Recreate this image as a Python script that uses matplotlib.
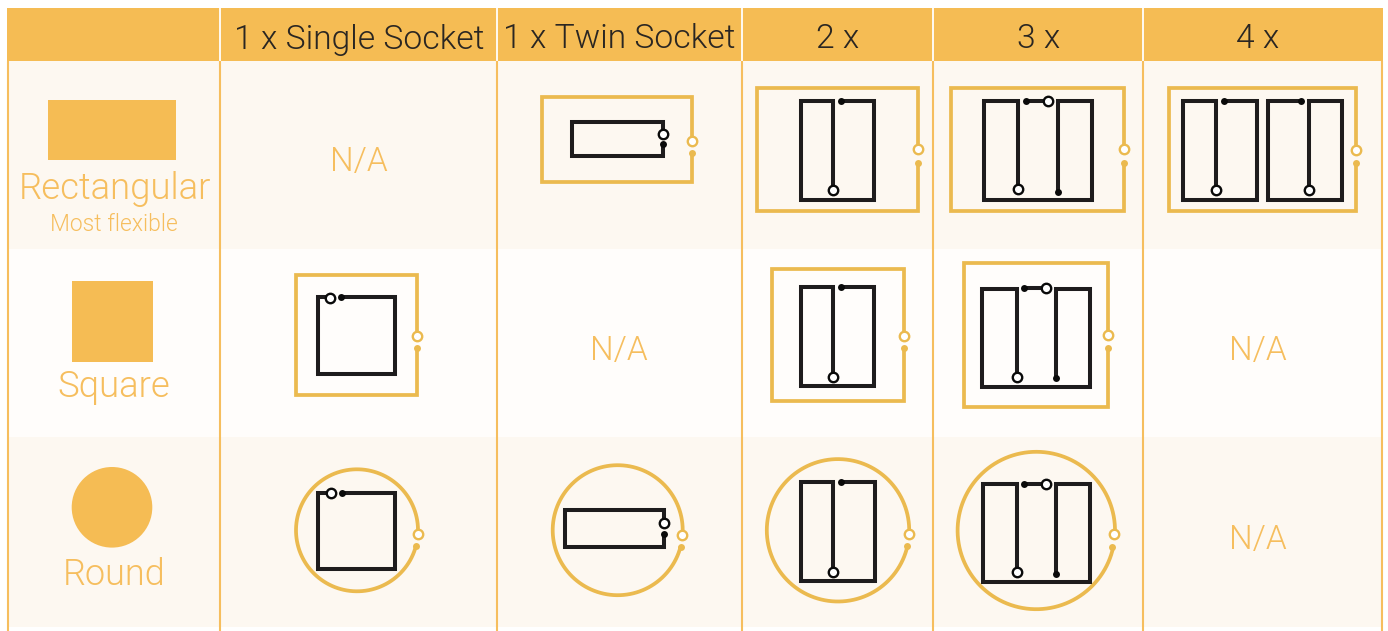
"""
Socket box shapes table, redrawn in pixel coordinates of the 1388x631 picture.
"""

import matplotlib
matplotlib.use("Agg")
import matplotlib.pyplot as plt
import numpy as np
from matplotlib.patches import Circle, Rectangle

ORANGE = "#F5BC54"
FRAME = "#EBBA4F"
INK = "#1E1C1D"
TEXT_DARK = "#2A2622"
LABEL = "#F6BE5E"
BAND = "#FDF8F1"
BAND_ALT = "#FFFDFB"

FONT = ["Roboto", "DejaVu Sans"]

# ----- table data -----

col_edges = [220.5, 497.5, 742.5, 933.5, 1143.5]
band_edges = [61, 249, 437, 627]

headers = ["1 x Single Socket", "1 x Twin Socket", "2 x", "3 x", "4 x"]
header_x = [359, 619, 838, 1039, 1258]

na_x = [359, 619, 1258, 1258]
na_y = [171, 360, 360, 549]

# x0, y0, x1, y1, open circle y, dot y
square_frames = [
    (542, 97, 692, 182, 140.7, 153),
    (757, 88, 918, 211, 149.3, 163),
    (951, 88, 1124, 211, 149.3, 163),
    (1169, 88, 1356, 211, 149.7, 163),
    (296, 274.5, 416.7, 395, 336.3, 347.7),
    (772, 269.3, 903.7, 401, 336.3, 347.7),
    (964, 263, 1108, 407, 335, 348.3),
]

# cx, cy, r, open x, open y, dot x, dot y
round_frames = [
    (357, 530.3, 61, 418, 534.3, 416, 546),
    (617.7, 530.2, 65, 681.7, 535, 680.7, 546.7),
    (838, 530.3, 71.2, 908.7, 534.3, 907, 546),
    (1036.3, 530.5, 78.7, 1114.3, 534.3, 1112.3, 546.7),
]

ink_paths = [
    # rectangular row
    [(663, 134), (663, 122), (572, 122), (572, 155.7), (663, 155.7), (663, 144)],
    [(841, 101), (874, 101), (874, 200), (801, 200), (801, 101), (833, 101), (833, 190)],
    [(1018, 189), (1018, 101), (984, 101), (984, 200), (1092, 200), (1092, 101), (1058, 101), (1058, 192)],
    [(1026, 101), (1048, 101)],
    [(1224.3, 101), (1257, 101), (1257, 200), (1183, 200), (1183, 101), (1216, 101), (1216, 190)],
    [(1300.7, 101), (1268, 101), (1268, 200), (1341.7, 200), (1341.7, 101), (1309, 101), (1309, 190)],
    # square row
    [(330, 297), (317.7, 297), (317.7, 373.7), (395.3, 373.7), (395.3, 297), (341, 297)],
    [(840.7, 287), (874.3, 287), (874.3, 385.7), (801, 385.7), (801, 287), (833.3, 287), (833.3, 377)],
    [(1017, 377), (1017, 288.5), (982.3, 288.5), (982.3, 387), (1090, 387), (1090, 288.5), (1056.3, 288.5), (1056.3, 378)],
    [(1024.3, 288.3), (1046.3, 288.3)],
    # round row
    [(331, 492.7), (318.3, 492.7), (318.3, 569), (395.3, 569), (395.3, 492.7), (341.7, 492.7)],
    [(664, 523), (664, 510.3), (565.3, 510.3), (565.3, 547), (664.3, 547), (664.3, 534)],
    [(841, 482.3), (874.7, 482.3), (874.7, 581.3), (801.3, 581.3), (801.3, 482.3), (833.3, 482.3), (833.3, 572)],
    [(1017, 572), (1017, 483.7), (982.7, 483.7), (982.7, 582.3), (1090, 582.3), (1090, 483.7), (1056.3, 483.7), (1056.3, 574)],
    [(1024.3, 483.7), (1046.3, 483.7)],
]

ink_open = [
    (662.7, 134), (833, 189.7), (1018, 189), (1048, 101), (1216, 189.7), (1309, 189.7),
    (330.3, 297.7), (833.3, 376.7), (1017, 376.7), (1046.3, 288.3),
    (331, 493), (664, 523.3), (833.3, 571.7), (1017, 571.7), (1046.3, 483.7),
]

ink_dots = [
    (663.3, 143.7), (841, 101), (1026, 101), (1058, 191.7), (1224.3, 101), (1300.7, 101),
    (341, 297), (840.7, 287), (1024.3, 288.3), (1056.3, 378.3),
    (341.7, 492.7), (664.3, 533.7), (841, 482.3), (1024.3, 483.7), (1056.3, 573.7),
]

# ----- drawing -----

fig = plt.figure(figsize=(13.88, 6.31), dpi=100)
ax = fig.add_axes([0, 0, 1, 1])
ax.set_xlim(0, 1388)
ax.set_ylim(631, 0)
ax.axis("off")


def label(x, y, s, size, color):
    ax.text(x, y, s, ha="center", va="baseline", fontsize=size, color=color,
            family=FONT, fontweight=300)


def open_mark(x, y, color, z):
    ax.plot([x], [y], "o", ms=6.8, mew=1.7, mec=color, mfc="white", zorder=z)


def dot_mark(x, y, color, z, ms=5):
    ax.plot([x], [y], "o", ms=ms, mew=0, color=color, zorder=z)


# bands and grid
ax.add_patch(Rectangle((7, 8), 1376, 53, fc=ORANGE, ec="none", zorder=1))
for i in range(3):
    ax.add_patch(Rectangle((8, band_edges[i]), 1374, band_edges[i + 1] - band_edges[i],
                           fc=BAND_ALT if i == 1 else BAND, ec="none", zorder=1))
for x in [8] + col_edges + [1382]:
    ax.plot([x, x], [61, 631], color=LABEL, lw=1.5, solid_capstyle="butt", zorder=2)
for x in col_edges:
    ax.plot([x, x], [8, 61], color="white", lw=1.3, solid_capstyle="butt", zorder=2)

# header
for x, s in zip(header_x, headers):
    label(x, 48.5, s, 24.2, TEXT_DARK)

# left column
ax.add_patch(Rectangle((48, 100), 128, 60, fc=ORANGE, ec="none", zorder=3))
ax.add_patch(Rectangle((72, 281), 81, 81, fc=ORANGE, ec="none", zorder=3))
ax.add_patch(Circle((112, 507.3), 40.3, fc=ORANGE, ec="none", zorder=3))
label(114.5, 199, "Rectangular", 26.3, LABEL)
label(113.5, 231, "Most flexible", 16.5, LABEL)
label(114, 396.7, "Square", 26.3, LABEL)
label(114, 585, "Round", 26, LABEL)

for x, y in zip(na_x, na_y):
    label(x, y, "N/A", 24, LABEL)

# outer frames
for x0, y0, x1, y1, open_y, dot_y in square_frames:
    xs = [x1, x1, x0, x0, x1, x1]
    ys = [open_y, y0, y0, y1, y1, dot_y]
    ax.plot(xs, ys, color=FRAME, lw=2.7, solid_joinstyle="miter", solid_capstyle="butt", zorder=4)
    open_mark(x1, open_y, FRAME, 5)
    dot_mark(x1, dot_y, FRAME, 5)

for cx, cy, r, ox, oy, dx, dy in round_frames:
    start = np.arctan2(dy - cy, dx - cx)
    stop = np.arctan2(oy - cy, ox - cx) + 2 * np.pi
    t = np.linspace(start, stop, 240)
    ax.plot(cx + r * np.cos(t), cy + r * np.sin(t), color=FRAME, lw=2.7,
            solid_capstyle="butt", zorder=4)
    open_mark(ox, oy, FRAME, 5)
    dot_mark(dx, dy, FRAME, 5)

# inner wiring
for path in ink_paths:
    xs, ys = zip(*path)
    ax.plot(xs, ys, color=INK, lw=2.9, solid_joinstyle="miter", solid_capstyle="butt", zorder=6)
for x, y in ink_open:
    open_mark(x, y, "#0A0A0A", 7)
for x, y in ink_dots:
    dot_mark(x, y, "#0A0A0A", 7)

fig.savefig("out.png", dpi=100, facecolor="white")
